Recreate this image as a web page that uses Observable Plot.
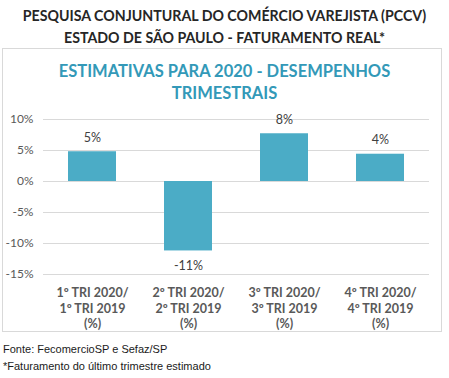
<!DOCTYPE html>
<html><head><meta charset="utf-8">
<script src="https://cdn.jsdelivr.net/npm/d3@7"></script>
<script src="https://cdn.jsdelivr.net/npm/@observablehq/plot@0.6"></script>
<style>
body{margin:0;background:#fff;width:449px;height:378px;position:relative;overflow:hidden;font-family:Lato,"Open Sans",sans-serif;}
.h{position:absolute;left:0;width:449px;text-align:center;font-weight:bold;color:#262626;font-size:14.2px;}
#box{position:absolute;left:2px;top:48px;width:440px;height:284px;border:1px solid #d9d9d9;box-sizing:border-box;}
.t{position:absolute;left:0;width:449px;text-align:center;font-weight:bold;color:#3399b8;font-size:16.5px;}
#plot{position:absolute;left:0;top:100px;}
.f{position:absolute;left:3px;font-family:"Liberation Sans",Arial,sans-serif;font-size:11px;color:#1a1a1a;}
</style></head><body>
<div class="h" style="top:7px">PESQUISA CONJUNTURAL DO COMÉRCIO VAREJISTA (PCCV)</div>
<div class="h" style="top:29px">ESTADO DE SÃO PAULO - FATURAMENTO REAL*</div>
<div id="box"></div>
<div class="t" style="top:61px">ESTIMATIVAS PARA 2020 - DESEMPENHOS</div>
<div class="t" style="top:83px">TRIMESTRAIS</div>
<div id="plot"></div>
<div class="f" style="top:343px">Fonte: FecomercioSP e Sefaz/SP</div>
<div class="f" style="top:360px">*Faturamento do último trimestre estimado</div>
<script>
const categories = ["1º TRI 2020/\n1º TRI 2019\n(%)","2º TRI 2020/\n2º TRI 2019\n(%)","3º TRI 2020/\n3º TRI 2019\n(%)","4º TRI 2020/\n4º TRI 2019\n(%)"];
const values = [4.8, -11.2, 7.7, 4.4];
const labels = ["5%","-11%","8%","4%"];
const yTicks = [-15,-10,-5,0,5,10];
const data = categories.map((c,i)=>({c, v: values[i], l: labels[i]}));
const chart = Plot.plot({
  width: 449, height: 235,
  marginLeft: 43, marginRight: 20, marginTop: 19, marginBottom: 61,
  style: {fontFamily: "Lato, 'Open Sans', sans-serif", background: "transparent"},
  x: {domain: categories, paddingInner: 0.5, paddingOuter: 0.25, label: null},
  y: {domain: [-15, 10], label: null},
  marks: [
    Plot.gridY(yTicks, {stroke: "#d9d9d9", strokeOpacity: 1}),
    Plot.barY(data, {x: "c", y: "v", fill: "#4bacc6"}),
    Plot.text(data.filter(d => d.v >= 0), {x: "c", y: "v", text: "l", dy: -14,
      lineAnchor: "middle", fill: "#404040", fontSize: 12.5}),
    Plot.text(data.filter(d => d.v < 0), {x: "c", y: "v", text: "l", dy: 15,
      lineAnchor: "middle", fill: "#404040", fontSize: 12.5}),
    Plot.axisY(yTicks, {tickSize: 0, tickPadding: 10, tickFormat: d => d + "%", fill: "#595959", fontSize: 12, label: null}),
    Plot.axisX({tickSize: 0, tickPadding: 12, fill: "#595959", fontSize: 12.5, fontWeight: "bold", lineHeight: 1.22, label: null})
  ]
});
document.getElementById("plot").appendChild(chart);
</script>
</body></html>
